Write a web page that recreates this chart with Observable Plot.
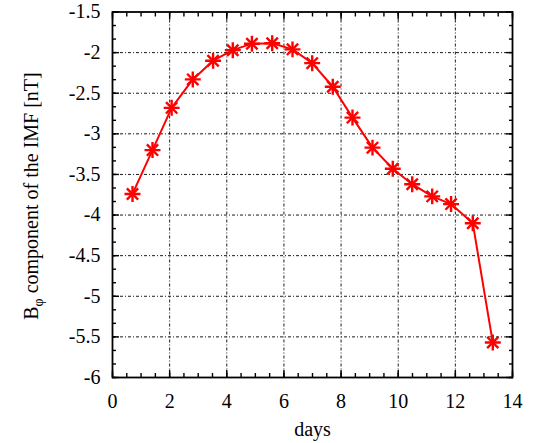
<!DOCTYPE html>
<html>
<head>
<meta charset="utf-8">
<script src="https://cdn.jsdelivr.net/npm/d3@7"></script>
<script src="https://cdn.jsdelivr.net/npm/@observablehq/plot@0.6"></script>
<style>
  html, body { margin: 0; padding: 0; background: #fff; }
</style>
</head>
<body>
<div id="chart"></div>
<script>
const days = [0.70, 1.40, 2.07, 2.81, 3.52, 4.21, 4.88, 5.59, 6.30, 6.99, 7.71, 8.40, 9.10, 9.81, 10.49, 11.19, 11.85, 12.61, 13.31];
const bphi = [-3.74, -3.20, -2.68, -2.33, -2.10, -1.97, -1.89, -1.885, -1.96, -2.13, -2.42, -2.80, -3.17, -3.43, -3.62, -3.77, -3.865, -4.10, -5.57];
const xTicks = [0, 2, 4, 6, 8, 10, 12, 14];
const yTicks = [-6, -5.5, -5, -4.5, -4, -3.5, -3, -2.5, -2, -1.5];
const xMinor = d3.range(0, 14.001, 0.5);
const yMinor = d3.range(0, 27.001, 1).map(i => -6 + i * 0.5 / 3);

const data = days.map((d, i) => ({day: d, value: bphi[i]}));
const fmt = d => String(d);
const serif = "Liberation Serif";

const chart = Plot.plot({
  width: 542,
  height: 443,
  marginLeft: 112,
  marginRight: 30,
  marginTop: 11.5,
  marginBottom: 66,
  style: {fontFamily: serif, fontSize: "20px", background: "#fff", color: "#000"},
  x: {domain: [0, 14]},
  y: {domain: [-6, -1.5]},
  marks: [
    Plot.gridX(xTicks.slice(1, -1), {stroke: "#000", strokeOpacity: 0.9, strokeWidth: 1, strokeDasharray: "3,2,1,2"}),
    Plot.gridY(yTicks.slice(1, -1), {stroke: "#000", strokeOpacity: 0.9, strokeWidth: 1, strokeDasharray: "3,2,1,2"}),
    // labels
    Plot.axisX(xTicks, {anchor: "bottom", tickSize: 0, tickPadding: 16, tickFormat: fmt, fontSize: 20, fontFamily: serif, label: null}),
    Plot.axisY(yTicks, {anchor: "left", tickSize: 0, tickPadding: 12, tickFormat: fmt, fontSize: 20, fontFamily: serif, label: null}),
    // inward major ticks
    Plot.axisX(xTicks, {anchor: "bottom", tickSize: -7, tickFormat: () => "", label: null, strokeWidth: 1.4}),
    Plot.axisX(xTicks, {anchor: "top", tickSize: -7, tickFormat: () => "", label: null, strokeWidth: 1.4}),
    Plot.axisY(yTicks, {anchor: "left", tickSize: -7, tickFormat: () => "", label: null, strokeWidth: 1.4}),
    Plot.axisY(yTicks, {anchor: "right", tickSize: -7, tickFormat: () => "", label: null, strokeWidth: 1.4}),
    // inward minor ticks
    Plot.axisX(xMinor, {anchor: "bottom", tickSize: -4, tickFormat: () => "", label: null, strokeWidth: 1.4}),
    Plot.axisX(xMinor, {anchor: "top", tickSize: -4, tickFormat: () => "", label: null, strokeWidth: 1.4}),
    Plot.axisY(yMinor, {anchor: "left", tickSize: -4, tickFormat: () => "", label: null, strokeWidth: 1.4}),
    Plot.axisY(yMinor, {anchor: "right", tickSize: -4, tickFormat: () => "", label: null, strokeWidth: 1.4}),
    Plot.frame({stroke: "#000", strokeWidth: 1.8}),
    Plot.line(data, {x: "day", y: "value", stroke: "#ff0000", strokeWidth: 2}),
    Plot.dot(data, {x: "day", y: "value", symbol: "plus", r: 5.2, stroke: "#ff0000", strokeWidth: 2.4}),
    Plot.dot(data, {x: "day", y: "value", symbol: "times", r: 5.2, stroke: "#ff0000", strokeWidth: 2.4}),
    Plot.text(["days"], {frameAnchor: "bottom", dy: 58, text: d => d, fontSize: 20, fontFamily: serif})
  ]
});

// y-axis title with a subscript phi
const svg = d3.select(chart);
const t = svg.append("text")
  .attr("transform", "translate(38,196) rotate(-90)")
  .attr("text-anchor", "middle")
  .attr("font-family", serif)
  .attr("font-size", 20)
  .attr("fill", "#000");
t.append("tspan").text("B");
t.append("tspan").attr("font-size", 14).attr("dy", 5).text("φ");
t.append("tspan").attr("dy", -5).text(" component of the IMF [nT]");

document.getElementById("chart").appendChild(chart);
</script>
</body>
</html>
